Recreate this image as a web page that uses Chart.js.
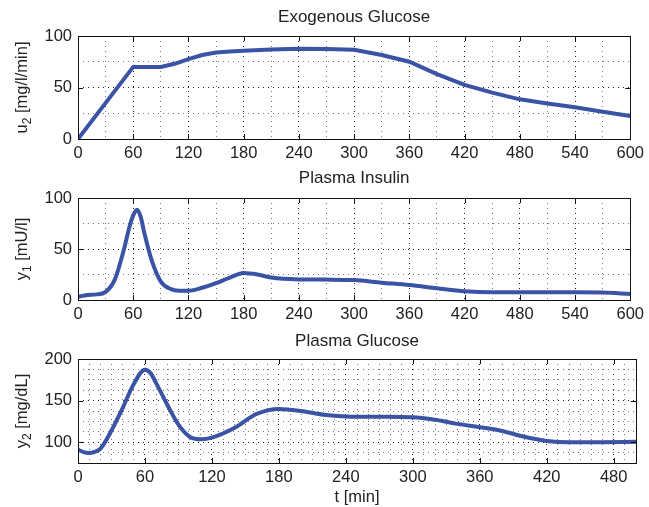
<!DOCTYPE html>
<html>
<head>
<meta charset="utf-8">
<script src="https://cdn.jsdelivr.net/npm/chart.js@4.4.0/dist/chart.umd.min.js"></script>
<style>
  body { margin: 0; background: #fff; }
  .box { position: absolute; left: 0; width: 649px; }
</style>
</head>
<body>
<div class="box" style="top:0;height:165px"><canvas id="c1"></canvas></div>
<div class="box" style="top:165px;height:160px"><canvas id="c2"></canvas></div>
<div class="box" style="top:325px;height:182px"><canvas id="c3"></canvas></div>
<script>
// exogenous glucose u2 [mg/l/min]
const uTime = [0, 60, 90, 105, 120, 135, 150, 165, 180, 210, 240, 270, 300, 330, 360, 390, 420, 450, 480, 510, 540, 570, 600];
const uValues = [0, 70, 70, 73, 77.5, 81.5, 84, 85, 85.7, 86.8, 87.5, 87.3, 86.6, 81.5, 75, 63, 52.5, 45, 38.5, 34.5, 30.8, 26.5, 22.3];

// plasma insulin y1 [mU/l]
const insTime = [0, 10, 20, 30, 40, 50, 56, 60, 64, 68, 72, 80, 90, 100, 110, 120, 135, 150, 165, 180, 195, 210, 240, 270, 300, 330, 360, 390, 420, 450, 480, 510, 540, 570, 600];
const insValues = [3, 5, 5.5, 8, 20, 50, 72, 83, 88.5, 82, 66, 39, 18, 11, 9, 9, 12, 16.5, 22, 26.5, 25, 22, 20.2, 20, 19.5, 17, 14.7, 11.5, 8.5, 7.5, 7.5, 7.5, 7.7, 7.3, 6];

// plasma glucose y2 [mg/dL]
const gluTime = [0, 5, 10, 15, 20, 30, 40, 50, 60, 65, 70, 80, 90, 100, 110, 120, 140, 160, 180, 200, 220, 240, 270, 300, 320, 340, 360, 380, 400, 420, 440, 470, 500];
const gluValues = [91, 88, 87, 88.5, 92, 114, 141, 170, 187, 183, 171, 145, 121, 106.5, 103.5, 105.5, 117, 134, 140, 137.5, 133, 131, 130.5, 130, 127, 122, 118, 113.5, 106.5, 101.5, 99.8, 100, 100.5];

const FONT = 'Liberation Sans, Arial, sans-serif';
const LINE = '#3a53a4';

function pts(t, v) {
  return t.map((x, i) => ({x: x, y: v[i]}));
}

// box around the axes, inward ticks, title over the plot area and y label with subscript
const framePlugin = {
  id: 'frame',
  afterDraw(chart, args, opts) {
    const ctx = chart.ctx;
    const a = chart.chartArea;
    const xs = chart.scales.x, ys = chart.scales.y;
    ctx.save();
    ctx.strokeStyle = '#111';
    ctx.lineWidth = 1;
    ctx.beginPath();
    for (let v = xs.min; v <= xs.max; v += 60) {
      const p = Math.round(xs.getPixelForValue(v)) + 0.5;
      ctx.moveTo(p, a.bottom); ctx.lineTo(p, a.bottom - 5);
      ctx.moveTo(p, a.top); ctx.lineTo(p, a.top + 5);
    }
    for (let v = Math.ceil(ys.min / 50) * 50; v <= ys.max; v += 50) {
      const p = Math.round(ys.getPixelForValue(v)) + 0.5;
      ctx.moveTo(a.left, p); ctx.lineTo(a.left + 5, p);
      ctx.moveTo(a.right, p); ctx.lineTo(a.right - 5, p);
    }
    ctx.stroke();
    ctx.strokeRect(Math.round(a.left) + 0.5, Math.round(a.top) + 0.5, Math.round(a.right - a.left), Math.round(a.bottom - a.top));

    ctx.fillStyle = '#222';
    // title
    ctx.font = '17px ' + FONT;
    ctx.textAlign = 'center';
    ctx.textBaseline = 'middle';
    ctx.fillText(opts.title, (a.left + a.right) / 2, opts.titleY);

    // y label
    ctx.textAlign = 'left';
    ctx.translate(22, (a.top + a.bottom) / 2);
    ctx.rotate(-Math.PI / 2);
    ctx.font = '16.5px ' + FONT;
    const w1 = ctx.measureText(opts.base).width;
    const w3 = ctx.measureText(opts.rest).width;
    ctx.font = '12px ' + FONT;
    const w2 = ctx.measureText(opts.sub).width;
    let x0 = -(w1 + w2 + w3) / 2;
    ctx.font = '16.5px ' + FONT;
    ctx.fillText(opts.base, x0, 0);
    ctx.font = '12px ' + FONT;
    ctx.fillText(opts.sub, x0 + w1, 6);
    ctx.font = '16.5px ' + FONT;
    ctx.fillText(opts.rest, x0 + w1 + w2, 0);
    ctx.restore();
  }
};

function makeChart(id, cfg) {
  const xMajor = 60, yMajor = 50;
  new Chart(document.getElementById(id), {
    type: 'line',
    data: {
      datasets: [{
        data: pts(cfg.t, cfg.v),
        borderColor: LINE,
        borderWidth: 4,
        pointRadius: 0,
        tension: cfg.smooth ? 0.4 : 0,
        cubicInterpolationMode: cfg.smooth ? 'monotone' : 'default',
        fill: false
      }]
    },
    options: {
      responsive: true,
      maintainAspectRatio: false,
      animation: false,
      layout: {padding: {left: 0, right: 13, top: cfg.top, bottom: 0}},
      plugins: {
        legend: {display: false},
        tooltip: {enabled: false},
        title: {display: false},
        frame: cfg.label
      },
      scales: {
        x: {
          type: 'linear',
          min: 0,
          max: cfg.xmax,
          afterBuildTicks: s => {
            const ticks = [];
            for (let v = 0; v <= cfg.xmax; v += cfg.xminor) ticks.push({value: v});
            s.ticks = ticks;
          },
          afterFit: s => { s.height = cfg.xh; },
          ticks: {
            autoSkip: false,
            maxRotation: 0,
            padding: 5,
            color: '#222',
            font: {family: FONT, size: 16.5},
            callback: v => (v % xMajor === 0 ? String(v) : '')
          },
          grid: {
            drawTicks: false,
            color: c => (c.tick && c.tick.value % xMajor === 0 ? '#1a1a1a' : '#777')
          },
          border: {display: false, dash: [1, 4]},
          title: cfg.xtitle ? {
            display: true,
            text: cfg.xtitle,
            color: '#222',
            font: {family: FONT, size: 16.5},
            padding: {top: 0, bottom: 0}
          } : {display: false}
        },
        y: {
          min: cfg.ymin,
          max: cfg.ymax,
          afterBuildTicks: s => {
            const ticks = [];
            for (let v = cfg.ymin; v <= cfg.ymax; v += cfg.yminor) ticks.push({value: v});
            s.ticks = ticks;
          },
          afterFit: s => { s.width = 78; },
          ticks: {
            autoSkip: false,
            padding: 6,
            color: '#222',
            font: {family: FONT, size: 16.5},
            callback: v => (v % yMajor === 0 ? String(v) : '')
          },
          grid: {
            drawTicks: false,
            color: c => (c.tick && c.tick.value % yMajor === 0 ? '#1a1a1a' : '#777')
          },
          border: {display: false, dash: [1, 4]}
        }
      }
    },
    plugins: [framePlugin]
  });
}

makeChart('c1', {
  t: uTime, v: uValues, smooth: false, top: 36,
  xmax: 600, xminor: 30, xh: 26, ymin: 0, ymax: 100, yminor: 25,
  label: {title: 'Exogenous Glucose', titleY: 17, base: 'u', sub: '2', rest: ' [mg/l/min]'}
});

makeChart('c2', {
  t: insTime, v: insValues, smooth: true, top: 33,
  xmax: 600, xminor: 30, xh: 25, ymin: 0, ymax: 100, yminor: 25,
  label: {title: 'Plasma Insulin', titleY: 13, base: 'y', sub: '1', rest: ' [mU/l]'}
});

makeChart('c3', {
  t: gluTime, v: gluValues, smooth: true, top: 34,
  xmax: 500, xminor: 10, xh: 44, ymin: 75, ymax: 200, yminor: 12.5,
  xtitle: 't [min]',
  label: {title: 'Plasma Glucose', titleY: 16, base: 'y', sub: '2', rest: ' [mg/dL]'}
});
</script>
</body>
</html>
